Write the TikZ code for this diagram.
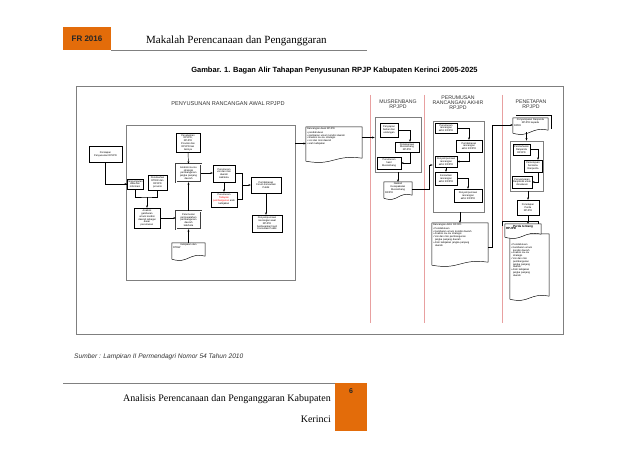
\documentclass[tikz,border=0pt]{standalone}
\usepackage{fontspec}
\setmainfont{Liberation Serif}
\setsansfont{Liberation Sans}
\usetikzlibrary{arrows.meta,calc}
\definecolor{orng}{HTML}{E36C0A}
\definecolor{frm}{HTML}{7F7F7F}
\definecolor{lanered}{HTML}{E8A0A0}
\tikzset{
  tinyf/.style={font=\sffamily\fontsize{2.5}{2.8}\selectfont},
  box/.style={draw, line width=0.45pt, fill=white, align=center, inner sep=0.2pt, tinyf},
  dbox/.style={box, double=white, double distance=0.7pt, draw=black!75},
  frame/.style={draw=frm, line width=0.8pt, inner sep=0pt},
  arr/.style={-{Stealth[length=2.4pt,width=2pt]}, line width=0.45pt},
  ln/.style={line width=0.45pt},
  docl/.style={draw, line width=0.45pt, fill=white},
  ttl/.style={font=\sffamily\fontsize{5.2}{5.2}\selectfont, text=black!80, align=center, inner sep=0pt},
  lanel/.style={draw=lanered, line width=0.45pt},
}
\newcommand\mkbox[7][box]{%
  \pgfmathsetmacro\bw{#5-#3}%
  \pgfmathsetmacro\bh{#6-#4}%
  \node[#1, minimum width=\bw pt, minimum height=\bh pt] (#2) at ({(#3+#5)/2},{(#4+#6)/2}) {#7};}
\newcommand\mkdoc[7][docl]{%
  \pgfmathsetmacro\bw{#5-#3}%
  \pgfmathsetmacro\bh{#6-#4}%
  \pgfmathsetmacro\tw{#5-#3-2}%
  \node[minimum width=\bw pt, minimum height=\bh pt, inner sep=0pt] (#2) at ({(#3+#5)/2},{(#4+#6)/2}) {};
  \path[#1] (#2.south west) -- (#2.north west) -- (#2.north east) -- ([yshift=2pt]#2.south east)
    .. controls ($(#2.south west)!0.5!(#2.south east)+(0,6pt)$) and ($(#2.south west)!0.5!(#2.south east)+(0,-6pt)$) .. ([yshift=-1pt]#2.south west) -- cycle;
  \node[tinyf, anchor=north west, align=left, inner sep=1pt, text width=\tw pt] (#2-t) at (#2.north west) {#7};}
\begin{document}
\begin{tikzpicture}[x=1pt,y=-1pt]
\useasboundingbox (0,0) rectangle (638,452);
\fill[white] (0,0) rectangle (638,452);

% ---------- header ----------
\fill[orng] (63,27) rectangle (111,50);
\node[font=\sffamily\bfseries\fontsize{8}{9}\selectfont, text=black!85] (fr) at (87,39) {FR 2016};
\draw[black!50, line width=0.8pt] (111,50) -- (367,50);
\node[anchor=base west, font=\fontsize{11}{12}\selectfont, inner sep=0pt] (hdr) at (146,44) {Makalah Perencanaan dan Penganggaran};
\node[font=\sffamily\bfseries\fontsize{7.5}{8}\selectfont, inner sep=0pt] (cap) at (334.5,71) {Gambar. 1. Bagan Alir Tahapan Penyusunan RPJP Kabupaten Kerinci 2005-2025};

% ---------- outer frame and lanes ----------
\draw[draw=frm, line width=0.9pt] (76,86) rectangle (563,334);
\draw[lanel] (370,95) -- (370,323);
\draw[lanel] (424,95) -- (424,323);
\draw[lanel] (502,95) -- (502,323);

\node[ttl, font=\sffamily\fontsize{5.6}{5.6}\selectfont] (t1) at (228,104) {PENYUSUNAN RANCANGAN AWAL RPJPD};
\node[ttl] (t2) at (398,104) {MUSRENBANG\\RPJPD};
\node[ttl] (t3) at (458,103) {PERUMUSAN\\RANCANGAN AKHIR\\RPJPD};
\node[ttl] (t4) at (531,104) {PENETAPAN\\RPJPD};

% ---------- lane 1: penyusunan rancangan awal ----------
\mkbox[frame]{f1}{126}{125}{295}{280}{}
\mkbox{p0}{89}{146}{122}{162}{Persiapan\\Penyusunan RPJPD}
\mkbox{p1}{128}{179}{142}{189}{Pengumpulan\\data dan\\informasi}
\mkbox{p2}{148}{175}{167}{190}{Penelaahan\\RTRW dan\\RPJPD\\provinsi}
\mkbox{ag}{134}{208}{160}{228}{Analisis\\gambaran\\umum kondisi\\daerah sebagai\\dasar\\perumusan}
\mkbox{tb}{176}{133}{200}{152}{Penelaahan\\RPJPN,\\RPJPD\\Provinsi dan\\RPJPD lain\\lainnya}
\mkbox[dbox]{ai}{176}{164}{201}{182}{Analisis isu-isu\\strategis\\pembangunan\\jangka panjang\\daerah}
\mkbox[dbox]{pp}{176}{211}{201}{229}{Perumusan\\permasalahan\\pembangunan\\daerah\\kab/kota}
\mkdoc{rd}{172}{243}{205}{258}{\centering Kebijakan dan\\RTRW}
\mkbox{vm}{213}{165}{235}{182}{Perumusan\\visi dan misi\\daerah\\kab/kota}
\mkbox{ak}{211}{192}{237}{207}{Perumusan\\\textcolor{red}{Tahapan}\\\textcolor{red}{pembangunan} arah\\kebijakan}
\mkbox{pb}{251}{177}{281}{193}{Pembahasan\\Forum Konsultasi\\Publik}
\mkbox{pn}{252}{215}{282}{232}{Penyempurnaan\\rancangan awal\\RPJPD\\berdasarkan hasil\\Konsultasi Publik}
\mkdoc{ra}{306}{127}{362}{160}{Rancangan Awal RPJPD\\[0.6pt]
  • pendahuluan\\• gambaran umum kondisi daerah\\• analisis isu-isu strategis\\• visi dan misi daerah\\• arah kebijakan}

\coordinate (j1) at (147,197);
\draw[ln] (p0.south) |- (p1.west);
\draw[arr] ([xshift=-0.3pt]p1.west) -- (p1.west);
\draw[ln] (p1.south) |- (j1) -| (p2.south);
\draw[arr] (j1) -- (ag.north);
\draw[arr] (ag.east) -- (ag.east -| pp.west);
\draw[arr] (tb.south) -- (ai.north);
\draw[arr] (pp.north) -- (ai.south);
\draw[arr] (rd.north) -- (pp.south);
\draw[arr] (ai.east) -- (ai.east -| vm.west);
\draw[arr] (vm.south) -- (ak.north);
\coordinate (j2) at (242,185);
\draw[ln] (vm.east) -| (j2);
\draw[ln] (ak.east) -| (j2);
\draw[arr] (j2) -- (pb.west);
\draw[arr] (pb.south) -- (pb.south |- pn.north);
\draw[arr] (ra.west -| f1.east) -- (ra.west);

% ---------- lane 2: musrenbang ----------
\mkbox[frame]{fm}{375}{117}{421}{172}{}
\mkbox{m1}{380}{123}{398}{137}{Penyiapan\\bahan dan\\undangan}
\mkbox{m2}{395}{142}{419}{152}{Pelaksanaan\\Musrenbang\\RPJPD}
\mkbox{m3}{377}{157}{401}{169}{Perumusan\\hasil\\Musrenbang}
\mkdoc{nk}{384}{182}{412}{197}{\centering Naskah\\Kesepakatan\\Musrenbang\\RPJPD}
\draw[arr] ([yshift=6pt]ra.east) -- ([yshift=6pt]ra.east -| fm.west);
\draw[arr] (m1.east) -| ([xshift=3pt]m2.north);
\draw[arr] ([xshift=3pt]m2.south) |- (m3.east);
\draw[arr] (fm.south -| nk.north) -- (nk.north);
\coordinate (j3) at (429,165);
\draw[ln] (nk.east) -| (j3);

% ---------- lane 3: perumusan rancangan akhir ----------
\mkbox[frame]{fp}{433}{121}{484}{212}{}
\draw[arr] (j3) -- (j3 -| fp.west);
\mkbox{r1}{435}{123}{457}{133}{Perumusan\\rancangan\\akhir RPJPD}
\mkbox{r2}{456}{140}{482}{152}{Pembahasan\\rancangan\\akhir RPJPD}
\mkbox{r3}{435}{156}{457}{167}{Penyempurnaan\\rancangan\\akhir RPJPD}
\mkbox{r4}{435}{172}{457}{185}{Konsultasi\\rancangan\\akhir RPJPD}
\mkbox{r5}{454}{189}{482}{202}{Penyempurnaan\\rancangan\\akhir RPJPD}
\draw[arr] (r1.east) -| (r2.north);
\draw[arr] (r2.south) |- (r3.east);
\draw[arr] (r3.south) -- (r4.north);
\draw[arr] (r4.east) -| (r5.north);
\mkdoc{rak}{432}{223}{488}{264}{Rancangan Akhir RPJPD\\[0.6pt]
  • Pendahuluan\\• Gambaran umum kondisi daerah\\• Analisis isu-isu strategis\\• Visi dan misi pembangunan\\\hspace*{2pt}jangka panjang daerah\\• Arah kebijakan jangka panjang\\\hspace*{2pt}daerah}
\draw[arr] (fp.south -| rak.north) -- (rak.north);

% ---------- lane 4: penetapan ----------
\draw[docl] (516,115) -- (551,115) -- (551,129);
\mkdoc{pd}{513}{118}{548}{132}{\centering Penyampaian Ranperda\\RPJPD kepada\\DPRD}
\coordinate (j4) at (492,247);
\coordinate (j5) at (492,125);
\draw[ln] (j4 -| rak.east) -- (j4) -- (j5);
\draw[arr] (j5) -- (j5 -| pd.west);
\mkbox[frame]{fpt}{510}{141}{543}{191}{}
\draw[arr] (pd.south -| fpt.north) -- (fpt.north);
\mkbox{i1}{513}{144}{530}{155}{Pembahasan\\Ranperda\\RPJPD}
\mkbox{i2}{524}{160}{542}{172}{Persetujuan\\bersama\\Ranperda}
\mkbox{i3}{512}{176}{532}{188}{Penyampaian\\Ranperda untuk\\dievaluasi}
\draw[arr] (i1.east) -| ([xshift=5pt]i2.north);
\draw[arr] ([xshift=5pt]i2.south) |- (i3.east);
\mkbox{pp2}{517}{200}{539}{215}{Penetapan\\Perda\\RPJPD}
\draw[arr] (fpt.south -| pp2.north) -- (pp2.north);
\mkdoc{big}{510}{234}{549}{298}{\vspace*{5pt}RPJPD:\\[1pt]
  • Pendahuluan\\• Gambaran umum\\\hspace*{2pt}kondisi daerah\\• Analisis isu-isu\\\hspace*{2pt}strategis\\• Visi dan misi\\\hspace*{2pt}pembangunan\\\hspace*{2pt}jangka panjang\\\hspace*{2pt}daerah\\• Arah kebijakan\\\hspace*{2pt}jangka panjang\\\hspace*{2pt}daerah}
\draw[docl] (502,226) -- (502,221) -- (538,221) -- (538,224);
\mkdoc{pdoc}{505}{224}{541}{236}{\centering\bfseries\fontsize{3}{3.3}\selectfont Perda tentang\\RPJPD}
\draw[arr] (pp2.south) -- (pp2.south |- pdoc.north);

% ---------- footer ----------
\node[anchor=west, font=\sffamily\itshape\fontsize{6.6}{7}\selectfont, text=black!80, inner sep=0pt] (src) at (74,357) {Sumber : Lampiran II Permendagri Nomor 54 Tahun 2010};
\draw[black!50, line width=0.8pt] (63,383) -- (335,383);
\fill[orng] (335,383) rectangle (367,431);
\node[font=\sffamily\bfseries\fontsize{7}{8}\selectfont, text=black!85] (pg) at (351,391) {6};
\node[anchor=east, font=\fontsize{10}{12}\selectfont, inner sep=0pt] (f1t) at (331,399) {Analisis Perencanaan dan Penganggaran Kabupaten};
\node[anchor=east, font=\fontsize{10}{12}\selectfont, inner sep=0pt] (f2t) at (331,419) {Kerinci};
\end{tikzpicture}
\end{document}
